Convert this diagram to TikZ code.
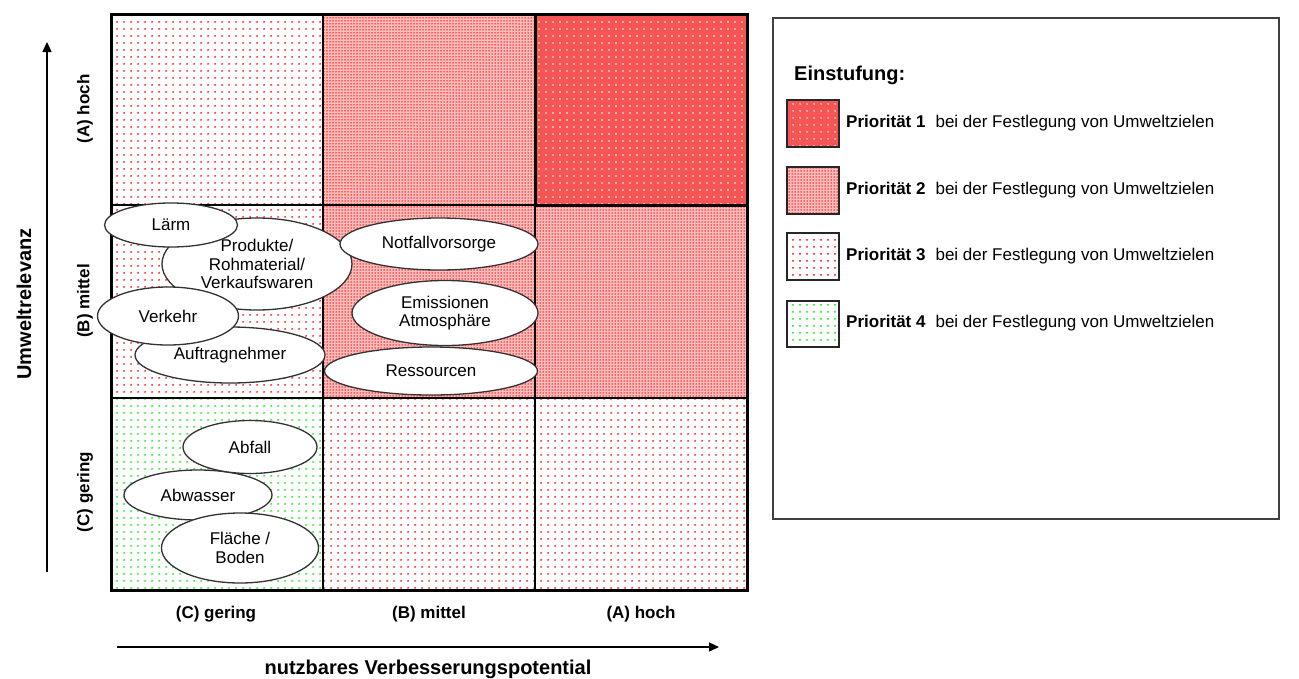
\documentclass[tikz,border=0pt]{standalone}
\usepackage{fontspec}
\setmainfont{Liberation Sans}
\usetikzlibrary{shapes.geometric,patterns.meta,arrows.meta}
\definecolor{poneb}{RGB}{245,85,85}
\definecolor{ptwob}{RGB}{255,190,190}
\definecolor{pred}{RGB}{255,0,0}
\definecolor{pgreen}{RGB}{0,235,0}
\definecolor{elldraw}{RGB}{50,50,50}
\tikzset{
  pone/.style={preaction={fill=poneb}, pattern={Dots[distance=6.5pt,radius=0.9pt]}, pattern color=white},
  ptwo/.style={preaction={fill=ptwob}, pattern={Dots[distance=3pt,radius=0.75pt]}, pattern color=pred},
  pthree/.style={pattern={Dots[distance=6.5pt,radius=1.05pt]}, pattern color=pred},
  pfour/.style={pattern={Dots[distance=6.5pt,radius=1.05pt]}, pattern color=pgreen},
  ell/.style={ellipse, draw=elldraw, line width=1.3pt, fill=white, inner sep=0pt, align=center,
    font=\fontsize{17}{18.5}\selectfont},
  lab/.style={inner sep=0pt, font=\fontsize{17}{19}\selectfont\bfseries},
  biglab/.style={inner sep=0pt, font=\fontsize{20}{22}\selectfont\bfseries},
  legtext/.style={inner sep=0pt, anchor=west, font=\fontsize{17}{19}\selectfont},
  swatch/.style={draw=black!85, line width=1.6pt},
  axisarrow/.style={line width=1.3pt, -{Triangle[length=10pt,width=9pt]}},
  gridthin/.style={line width=2pt},
  gridthick/.style={line width=3pt}
}
\begin{document}
\begin{tikzpicture}[x=1pt,y=-1pt]
\useasboundingbox (0,0) rectangle (1299,678);
\fill[white] (0,0) rectangle (1299,678);
% matrix cells
\path[pthree] (111,14) rectangle (323,205);
\path[ptwo] (323,14) rectangle (535,205);
\path[pone] (535,14) rectangle (747,205);
\path[pthree] (111,205) rectangle (323,398);
\path[ptwo] (323,205) rectangle (747,398);
\path[pfour] (111,398) rectangle (323,590);
\path[pthree] (323,398) rectangle (747,590);
% grid lines
\draw[gridthin] (323,14) -- (323,590) (535,14) -- (535,590)
                (111,205) -- (747,205) (111,398) -- (747,398);
\draw[gridthick] (111,14) rectangle (747,590);
\draw[gridthick] (535,14) rectangle (747,205);
% ellipses
\node[ell, minimum width=190pt, minimum height=56pt] (auftrag) at (230,355) {Auftragnehmer};
\node[ell, minimum width=190pt, minimum height=92pt] (produkte) at (257,264) {Produkte/\\Rohmaterial/\\Verkaufswaren};
\node[ell, minimum width=133pt, minimum height=44pt] (laerm) at (171,225) {Lärm};
\node[ell, minimum width=141pt, minimum height=58pt] (verkehr) at (168,316) {Verkehr};
\node[ell, minimum width=198pt, minimum height=52pt] (notfall) at (439,244) {Notfallvorsorge};
\node[ell, minimum width=186pt, minimum height=65pt] (emission) at (445,313) {Emissionen\\Atmosphäre};
\node[ell, minimum width=213pt, minimum height=48pt] (ressourcen) at (431,371) {Ressourcen};
\node[ell, minimum width=148pt, minimum height=50pt] (abwasser) at (198,495) {Abwasser};
\node[ell, minimum width=134pt, minimum height=53pt] (abfall) at (250,447) {Abfall};
\node[ell, minimum width=157pt, minimum height=70pt] (flaeche) at (240,548) {Fläche /\\Boden};
% axis category labels
\node[lab, rotate=90] (rowA) at (85,109) {(A) hoch};
\node[lab, rotate=90] (rowB) at (85,301) {(B) mittel};
\node[lab, rotate=90] (rowC) at (85,492) {(C) gering};
\node[lab] (colC) at (216,614) {(C) gering};
\node[lab] (colB) at (429,614) {(B) mittel};
\node[lab] (colA) at (641,614) {(A) hoch};
% axis titles
\node[biglab, rotate=90] (ylab) at (24,304) {Umweltrelevanz};
\node[biglab] (xlab) at (428,669) {nutzbares Verbesserungspotential};
% axis arrows
\coordinate (vs) at (47,572);
\coordinate (ve) at (47,42);
\draw[axisarrow] (vs) -- (ve);
\coordinate (hs) at (117,647);
\coordinate (he) at (719,647);
\draw[axisarrow] (hs) -- (he);
% legend
\draw[line width=1.6pt, draw=black!75] (773,18) rectangle (1279,519);
\node[biglab, anchor=west] (einst) at (794,75) {Einstufung:};
\path[pone, swatch] (787,100) rectangle (839,147);
\path[ptwo, swatch] (787,167) rectangle (839,214);
\path[pthree, swatch] (787,233) rectangle (839,280);
\path[pfour, swatch] (787,301) rectangle (839,347);
\node[legtext] (leg1) at (846,123) {\textbf{Priorität 1}\hspace{10pt}bei der Festlegung von Umweltzielen};
\node[legtext] (leg2) at (846,190) {\textbf{Priorität 2}\hspace{10pt}bei der Festlegung von Umweltzielen};
\node[legtext] (leg3) at (846,256) {\textbf{Priorität 3}\hspace{10pt}bei der Festlegung von Umweltzielen};
\node[legtext] (leg4) at (846,323) {\textbf{Priorität 4}\hspace{10pt}bei der Festlegung von Umweltzielen};
\end{tikzpicture}
\end{document}
